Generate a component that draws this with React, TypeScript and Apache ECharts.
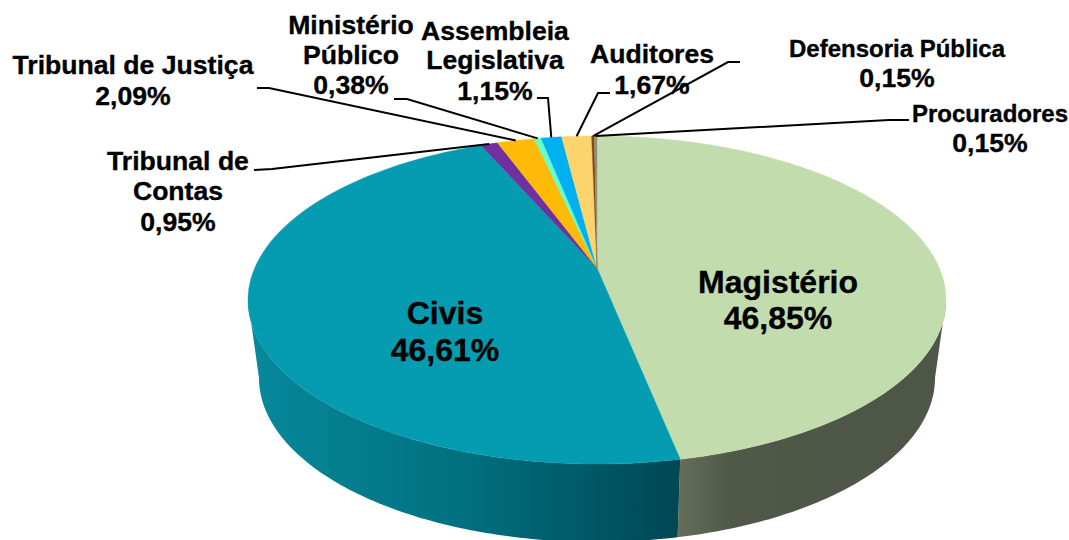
import React, { useEffect, useRef } from "react";
import * as echarts from "echarts";

const nameLines: string[][] = [
  ["Magistério"],
  ["Civis"],
  ["Tribunal de", "Contas"],
  ["Tribunal de Justiça"],
  ["Ministério", "Público"],
  ["Assembleia", "Legislativa"],
  ["Auditores"],
  ["Defensoria Pública"],
  ["Procuradores"],
];
const shares = [46.85, 46.61, 0.95, 2.09, 0.38, 1.15, 1.67, 0.15, 0.15];
const topColors = ["#C3DCAE", "#059BB0", "#7030A0", "#FDBB05", "#66FFCC", "#00B0F0", "#FBD46E", "#8A4513", "#8F8F7A"];
const sideStops: (string[] | null)[] = [
  ["#646E58", "#505948", "#4D5647"],
  ["#07899C", "#00707F", "#004753"],
  null, null, null, null, null, null, null,
];

// Drawing layout (pixels): the perspective ellipses of the top and bottom faces
const CX = 597;
const TOP = { cy: 300, rx: 349, ry: 164 };
const BOTTOM = { cy: 378, rx: 338, ry: 164 };
const APEX_SHIFT = -0.195;

// label layout by slice: centre x, y of each line, name size, leader elbow points
const labelLayout = [
  { x: 778, ys: [282, 318], nameSize: 32, valueSize: 32, leader: null },
  { x: 445, ys: [313, 350], nameSize: 32, valueSize: 32, leader: null },
  { x: 178, ys: [161, 191, 222], nameSize: 26.6, valueSize: 26.6, leader: [[254, 170], [272, 169]] },
  { x: 133, ys: [65, 96], nameSize: 26.6, valueSize: 26.6, leader: [[257, 88], [269, 88]] },
  { x: 351, ys: [25, 55, 85], nameSize: 26.6, valueSize: 26.6, leader: [[394, 99], [407, 99]] },
  { x: 495, ys: [31, 60, 91], nameSize: 26.6, valueSize: 26.6, leader: [[537, 98], [548, 98]] },
  { x: 652, ys: [54, 85], nameSize: 26.6, valueSize: 26.6, leader: [[610, 93], [598, 93]] },
  { x: 897, ys: [48, 78], nameSize: 24, valueSize: 26.6, leader: [[740, 62], [728, 62]] },
  { x: 990, ys: [113, 143], nameSize: 24, valueSize: 26.6, leader: [[909, 120], [889, 120]] },
];

const total = shares.reduce((a, b) => a + b, 0);
const cumulative: number[] = [];
shares.reduce((acc, v, i) => {
  cumulative[i] = acc;
  return acc + v;
}, 0);

// true pie angle (clockwise from 12 o'clock) -> param angle on the projected ellipse
function projected(share: number) {
  const t = (share / total) * Math.PI * 2;
  const x = Math.sin(t);
  const y = -Math.cos(t);
  const d = 1 + APEX_SHIFT * y;
  const px = (x * Math.sqrt(1 - APEX_SHIFT * APEX_SHIFT)) / d;
  const py = (y + APEX_SHIFT) / d;
  let phi = Math.atan2(px, -py);
  if (phi < 0 || (share >= total - 1e-6 && phi < 1)) phi += Math.PI * 2;
  return phi;
}

function rim(face: { cy: number; rx: number; ry: number }, phi: number) {
  return [CX + face.rx * Math.sin(phi), face.cy - face.ry * Math.cos(phi)];
}

function arc(face: { cy: number; rx: number; ry: number }, a: number, b: number) {
  const steps = Math.max(2, Math.ceil(((b - a) * 180) / Math.PI));
  const pts: number[][] = [];
  for (let i = 0; i <= steps; i++) pts.push(rim(face, a + ((b - a) * i) / steps));
  return pts;
}

const apex = [CX, TOP.cy + APEX_SHIFT * TOP.ry];

function renderSide(_: any, api: any) {
  const i = api.value(1);
  const a = Math.max(projected(cumulative[i]), Math.PI / 2);
  const b = Math.min(projected(cumulative[i] + api.value(0)), (Math.PI * 3) / 2);
  if (b <= a) return { type: "group", children: [] };
  const pts = arc(TOP, a, b).concat(arc(BOTTOM, a, b).reverse());
  const stops = sideStops[i];
  const fill = stops
    ? new echarts.graphic.LinearGradient(0, 0, 1, 0, [
        { offset: 0, color: stops[0] },
        { offset: i === 0 ? 0.2 : 0.5, color: stops[1] },
        { offset: 1, color: stops[2] },
      ])
    : topColors[i];
  return { type: "polygon", shape: { points: pts }, style: { fill } };
}

function renderTop(_: any, api: any) {
  const i = api.value(1);
  const a = projected(cumulative[i]);
  const b = projected(cumulative[i] + api.value(0));
  const pts = [apex].concat(arc(TOP, a, b));
  return {
    type: "polygon",
    shape: { points: pts },
    style: { fill: topColors[i], stroke: topColors[i], lineWidth: 0.4 },
  };
}

function textEl(text: string, x: number, y: number, size: number) {
  return {
    type: "text",
    style: {
      text,
      x,
      y,
      fill: "#000000",
      stroke: "#000000",
      lineWidth: 0.35,
      align: "center",
      verticalAlign: "middle",
      font: `bold ${size}px "Liberation Sans", Arial, sans-serif`,
    },
  };
}

function renderLabel(_: any, api: any) {
  const i = api.value(1);
  const v = api.value(0);
  const layout = labelLayout[i];
  const children: any[] = [];
  const lines = nameLines[i];
  lines.forEach((line, k) => {
    children.push(textEl(line, layout.x, layout.ys[k], layout.nameSize));
  });
  children.push(
    textEl(v.toFixed(2).replace(".", ",") + "%", layout.x, layout.ys[lines.length], layout.valueSize)
  );
  if (layout.leader) {
    const mid = rim(TOP, projected(cumulative[i] + v / 2));
    children.push({
      type: "polyline",
      shape: { points: [...layout.leader, mid] },
      style: { stroke: "#000000", lineWidth: 2, fill: "none" },
    });
  }
  return { type: "group", children };
}

export default function App() {
  const ref = useRef<HTMLDivElement>(null);
  useEffect(() => {
    const chart = echarts.init(ref.current!, null, { renderer: "svg" });
    const data = shares.map((v, i) => [v, i]);
    const common = { type: "custom", coordinateSystem: "none", data, silent: true, clip: false };
    chart.setOption({
      animation: false,
      backgroundColor: "#ffffff",
      series: [
        { ...common, name: "side", z: 1, renderItem: renderSide },
        { ...common, name: "top", z: 2, renderItem: renderTop },
        { ...common, name: "labels", z: 3, renderItem: renderLabel },
      ],
    });
    return () => chart.dispose();
  }, []);
  return (
    <div
      ref={ref}
      style={{ position: "fixed", left: 0, top: 0, width: 1069, height: 540 }}
    />
  );
}
